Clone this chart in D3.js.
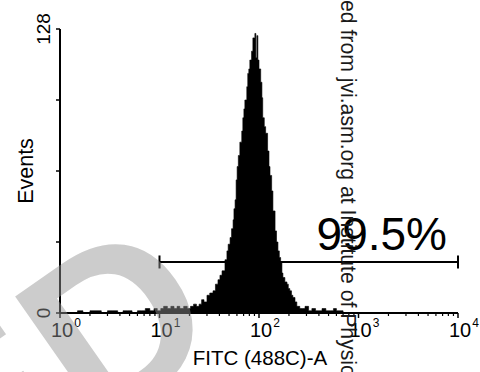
<!DOCTYPE html>
<html><head><meta charset="utf-8">
<script src="https://cdn.jsdelivr.net/npm/d3@7"></script>
<style>html,body{margin:0;padding:0;background:#fff;} svg{display:block;}</style>
</head><body><svg id="c" width="480" height="372"></svg>
<script>
// ---- data ----
const fitcValues = [1.3,1.5,1.7,2,2.3,2.6,3,3.4,3.8,4.3,4.8,5.3,6,6.6,7.2,8,8.8,9.5,10.3,11,12,13,14,15,16,17.5,19,20.5,22,23.5,25,26.5,28,30,32,34.5,36.5,38.7,40.5,42.5,45.5,47.6,49,51.2,53,54.9,56,57.5,58.9,60.3,62,64.2,67.1,68.8,70.5,72.1,75.4,77.1,79,80.9,84.2,86.8,90.9,93,95.2,97.4,100,104,107,109,113,116.6,122,126,129,134,138,145,150,155,160,165,170,174,182,191,197,204,212,219,230,240,257,275,290,302,315,340,370,400,430,470,520,560,600,650,700];
const eventCounts = [0,1,0,1,1,0,1,1,0,1,1,0,1,1,2,1,2,1,2,3,2,3,2,3,2,3,2,3,4,3,4,6,5,8,9,10,13,15,17,19,24,28,31,34,38,42,47,51,60,66,71,77,82,88,92,96,102,108,110,114,118,124,126,115,125,114,110,104,97,88,84,81,73,66,62,55,46,37,32,28,25,23,18,16,14,13,11,10,8,7,5,3,2,2,3,3,1,2,1,1,2,1,1,2,1,1,0];
const yTicks = [0,32,64,96,128];
const yTickLabels = [[0,"0"],[128,"128"]];
const xMajorTicks = [1,10,100,1000,10000];
const xTickExponents = ["0","1","2","3","4"];
const xMinorMultipliers = [2,3,4,5,6,7,8,9];
const gateRange = [10,10000];
const gateLevel = 23;
const gateLabel = "99.5%";
const xTitle = "FITC (488C)-A";
const yTitle = "Events";
const sideNote = "Downloaded from jvi.asm.org at Institute of Physiology";
const stamp = "ED";

// ---- chart ----
const svg = d3.select("#c");
const FONT = "'Liberation Sans', Arial, sans-serif";
const x = d3.scaleLog().domain([1,10000]).range([60,458]);
const y = d3.scaleLinear().domain([0,128]).range([313,29]);

const pts = fitcValues.map((v,i)=>({v, c: eventCounts[i]}));
const area = d3.area().curve(d3.curveStepAfter)
  .x(d=>x(d.v)).y0(y(0)).y1(d=>y(d.c));
svg.append("path").datum(pts).attr("d", area).attr("fill","#000").attr("stroke","#000").attr("stroke-width",0.6);

// axes
const g = svg.append("g");
g.append("line").attr("x1",x(1)).attr("x2",x(10000)).attr("y1",y(0)).attr("y2",y(0)).attr("stroke","#000").attr("stroke-width",2);
g.append("line").attr("x1",x(1)).attr("x2",x(1)).attr("y1",y(0)).attr("y2",y(128)).attr("stroke","#000").attr("stroke-width",2);
yTicks.forEach(t=>{
  g.append("line").attr("x1",x(1)-4).attr("x2",x(1)).attr("y1",y(t)).attr("y2",y(t)).attr("stroke","#000").attr("stroke-width",1.5);
});
yTickLabels.forEach(([t,lab])=>{
  g.append("text").attr("transform",`translate(50,${y(t)}) rotate(-90)`).attr("text-anchor","middle")
   .attr("font-family",FONT).attr("font-size",19).text(lab);
});
xMajorTicks.forEach((t,i)=>{
  g.append("line").attr("x1",x(t)).attr("x2",x(t)).attr("y1",y(0)).attr("y2",y(0)+5).attr("stroke","#000").attr("stroke-width",1.5);
  const tx = g.append("text").attr("x",x(t)+2).attr("y",337).attr("text-anchor","middle")
   .attr("font-family",FONT).attr("font-size",20).text("10");
  const w = tx.node().getComputedTextLength();
  g.append("text").attr("x",x(t)+2+w/2+1).attr("y",327).attr("font-family",FONT).attr("font-size",12).text(xTickExponents[i]);
  if (t<10000) xMinorMultipliers.forEach(m=>{
    g.append("line").attr("x1",x(t*m)).attr("x2",x(t*m)).attr("y1",y(0)).attr("y2",y(0)+3).attr("stroke","#000").attr("stroke-width",1.2);
  });
});
g.append("text").attr("x",260).attr("y",365).attr("text-anchor","middle").attr("font-family",FONT).attr("font-size",20.5).text(xTitle);
g.append("text").attr("transform",`translate(33,171) rotate(-90)`).attr("text-anchor","middle").attr("font-family",FONT).attr("font-size",21.5).text(yTitle);

// gate
const gy = y(gateLevel);
g.append("line").attr("x1",x(gateRange[0])).attr("x2",x(gateRange[1])).attr("y1",gy).attr("y2",gy).attr("stroke","#000").attr("stroke-width",2);
gateRange.forEach(v=>g.append("line").attr("x1",x(v)).attr("x2",x(v)).attr("y1",gy-6.5).attr("y2",gy+6.5).attr("stroke","#000").attr("stroke-width",2));
g.append("text").attr("x",447).attr("y",250).attr("text-anchor","end").attr("font-family",FONT).attr("font-size",46).text(gateLabel);

// side note (rotated)
const SN = 21.2;
const probe = svg.append("text").attr("font-family",FONT).attr("font-size",SN).text("Download");
const pre = probe.node().getComputedTextLength(); probe.remove();
svg.append("text").attr("transform",`translate(341,${0-pre}) rotate(90)`).attr("font-family",FONT).attr("font-size",SN).attr("fill","#1a1a1a").text(sideNote);

// stamp
const FS = 230;
const st = svg.append("text").attr("font-family",FONT).attr("font-weight","bold").attr("font-size",FS)
  .attr("fill","#939393").attr("fill-opacity",0.47).text(stamp);
const ext = st.node().getExtentOfChar(1);
const dcx = ext.x + ext.width/2, dcy = -0.358*FS;
st.attr("transform",`translate(114,320) rotate(-35) translate(${-dcx},${-dcy})`);
</script></body></html>
